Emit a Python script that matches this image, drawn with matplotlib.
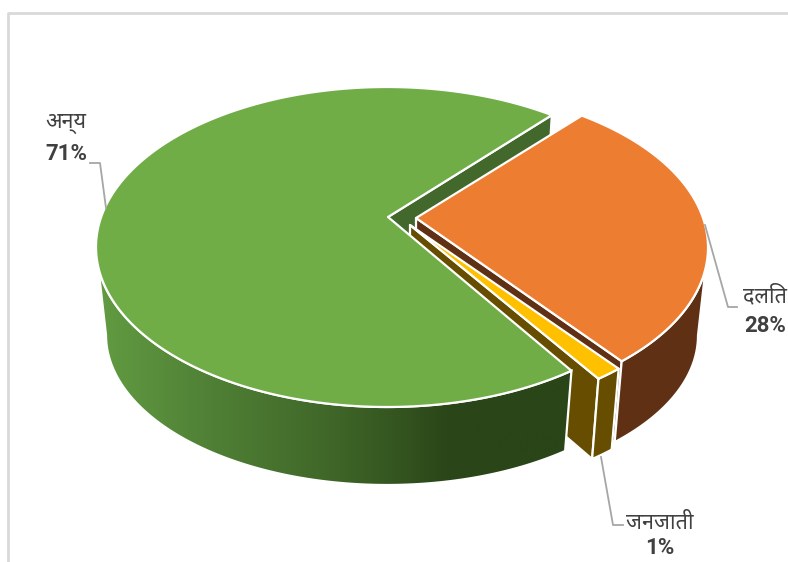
import numpy as np
import matplotlib
matplotlib.use('Agg')
import matplotlib.pyplot as plt
from matplotlib.colors import LinearSegmentedColormap
from matplotlib.patches import Polygon

names = ['अन्य', 'दलित', 'जनजाती']
shares = [70.51, 28.0, 1.49]
top_colors = ['#70ad47', '#ed7d31', '#ffc000']
wall_colors = ['#43682b', '#5f3013', '#664d00']
green_ramp = ['#629c42', '#4f7f35', '#3f6628', '#2a4518', '#2a4518']

# ellipse centre and inner point of every exploded slice, in pixels
centers = [(387, 247), (417, 247.5), (414, 255)]
apexes = [(388, 217), (416, 218), (410, 225)]
start_angle = 55.5
a, b = 291, 160
a2, b2 = 281, 150
depth = 88

plt.rcParams['font.family'] = ['Noto Sans', 'Liberation Sans', 'DejaVu Sans']

fig = plt.figure(figsize=(7.88, 5.62), dpi=100)
ax = fig.add_axes([0, 0, 1, 1])


def top_arc(c, t1, t2):
    t = np.radians(np.linspace(t1, t2, 200))
    return np.column_stack([c[0] + a * np.cos(t), c[1] - b * np.sin(t)])


def low_arc(c, t1, t2):
    t = np.radians(np.linspace(t1, t2, 200))
    return np.column_stack([c[0] + a2 * np.cos(t), c[1] + depth - b2 * np.sin(t)])


def draw(points, color, z, lw=1.6):
    ax.add_patch(Polygon(points, closed=True, facecolor=color, edgecolor='white',
                         linewidth=lw, joinstyle='round', zorder=z))


def radial_wall(i, t, z):
    rim = top_arc(centers[i], t, t)[:1]
    rim2 = low_arc(centers[i], t, t)[:1]
    inner = np.array([apexes[i]])
    draw(np.vstack([inner, rim, rim2, inner + [0, depth - 10]]), wall_colors[i], z)


def rim_wall(i, t1, t2, z):
    draw(np.vstack([top_arc(centers[i], t1, t2), low_arc(centers[i], t2, t1)]), wall_colors[i], z)


def top_face(i, t1, t2, z):
    draw(np.vstack([[apexes[i]], top_arc(centers[i], t1, t2)]), top_colors[i], z)


# angles run counter-clockwise from the green slice start
sweeps = [s * 3.6 for s in shares]
g1, g2 = start_angle, start_angle + sweeps[0]
o1, o2 = start_angle, start_angle - sweeps[1]
y1, y2 = o2 - sweeps[2], o2

# back to front
radial_wall(0, g1, 1)

radial_wall(1, o2, 2)
rim_wall(1, 0, o2, 2)
top_face(1, o1, o2, 3)

radial_wall(2, y1, 4)
rim_wall(2, y1, y2, 4)
top_face(2, y1, y2, 5)

# green rim has a left to right gradient
wall = np.vstack([top_arc(centers[0], 180, g2), low_arc(centers[0], g2, 180)])
wall_patch = Polygon(wall, closed=True, facecolor='none', edgecolor='white', linewidth=1.6, zorder=7)
ramp = LinearSegmentedColormap.from_list('ramp', green_ramp)
img = ax.imshow(np.linspace(0, 1, 256).reshape(1, -1), cmap=ramp, aspect='auto',
                extent=[wall[:, 0].min(), wall[:, 0].max(), 562, 0], zorder=6)
ax.add_patch(wall_patch)
img.set_clip_path(wall_patch)
top_face(0, g1, g2, 8)

# chart frame
ax.plot([8, 8, 788], [562, 13, 13], color='#d9d9d9', lw=2, zorder=0)

# leader lines
ax.plot([90, 100, 106], [163, 163, 208], color='#a6a6a6', lw=1.3, zorder=9)
ax.plot([705, 728, 737], [225, 307, 307], color='#a6a6a6', lw=1.3, zorder=9)
ax.plot([601, 613, 623], [457, 525, 525], color='#a6a6a6', lw=1.3, zorder=9)

# labels
label_x = [66, 765, 660]
label_y = [124, 296, 523]
pct_y = [154, 326, 548]
for name, share, x, y, py in zip(names, shares, label_x, label_y, pct_y):
    ax.text(x, y, name, ha='center', va='center', fontsize=15.5, color='#404040',
            fontweight='bold', zorder=10)
    ax.text(x, py, f'{round(share)}%', ha='center', va='center', fontsize=16,
            color='#404040', fontweight='bold', zorder=10,
            family=['Roboto', 'Liberation Sans', 'DejaVu Sans'])

ax.set_xlim(0, 788)
ax.set_ylim(562, 0)
ax.axis('off')

fig.savefig('out.png', dpi=100)
